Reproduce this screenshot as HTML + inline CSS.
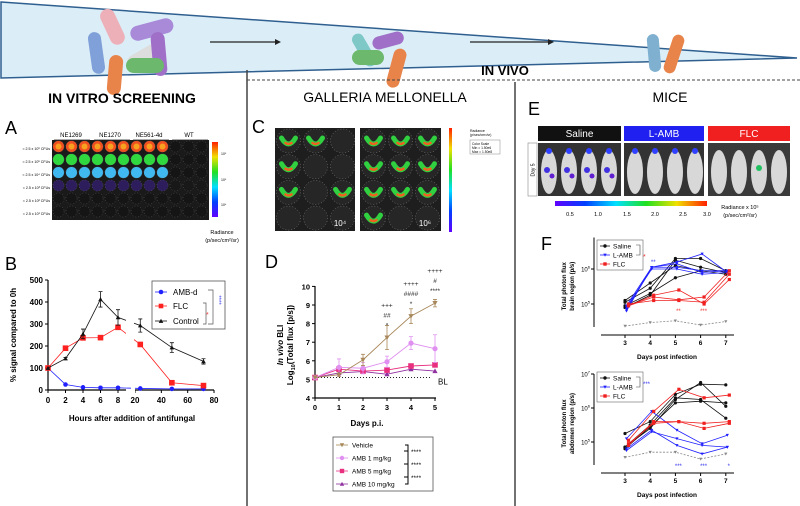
<!DOCTYPE html>
<html><head><meta charset="utf-8"><style>
html,body{margin:0;padding:0;background:#fff;}
svg{display:block;font-family:"Liberation Sans",sans-serif;}
</style></head><body>
<svg id="fig" width="800" height="506" viewBox="0 0 800 506" xmlns="http://www.w3.org/2000/svg">
<!-- banner -->
<g>
<polygon points="1,2 797,58 1,78" fill="#dbeef8" stroke="#2f5f8f" stroke-width="1.5"/>
<g>
<rect x="90" y="32" width="13" height="42" rx="6.5" fill="#7fa0d8" transform="rotate(-8 96 53)"/>
<rect x="105" y="8" width="15" height="38" rx="7.5" fill="#eeb0b8" transform="rotate(-25 112 27)"/>
<rect x="130" y="22" width="44" height="15" rx="7.5" fill="#a88ad8" transform="rotate(-15 152 30)"/>
<rect x="125" y="48" width="42" height="15" rx="7.5" fill="#ddd" transform="rotate(-30 146 55)"/>
<rect x="152" y="32" width="14" height="44" rx="7" fill="#a070c8" transform="rotate(-5 159 54)"/>
<rect x="108" y="55" width="14" height="40" rx="7" fill="#e8844a" transform="rotate(5 115 75)"/>
<rect x="126" y="58" width="38" height="15" rx="7.5" fill="#6cb86c"/>
</g>
<g>
<rect x="358" y="32" width="12" height="36" rx="6" fill="#7fc8c8" transform="rotate(-30 364 50)"/>
<rect x="372" y="34" width="32" height="13" rx="6.5" fill="#a070c8" transform="rotate(-15 388 40)"/>
<rect x="390" y="48" width="13" height="40" rx="6.5" fill="#e8844a" transform="rotate(15 396 68)"/>
<rect x="352" y="50" width="32" height="15" rx="7.5" fill="#6cb86c"/>
</g>
<g>
<rect x="648" y="34" width="12" height="38" rx="6" fill="#7fb0d0" transform="rotate(-5 654 53)"/>
<rect x="668" y="34" width="12" height="40" rx="6" fill="#e8844a" transform="rotate(18 674 54)"/>
</g>
<g><line x1="210" y1="42" x2="275" y2="42" stroke="#222" stroke-width="1.2"/><polygon points="275,39 281,42 275,45" fill="#222"/></g>
<g><line x1="470" y1="42" x2="548" y2="42" stroke="#222" stroke-width="1.2"/><polygon points="548,39 554,42 548,45" fill="#222"/></g>
</g>
<!-- dividers -->
<line x1="247" y1="70" x2="247" y2="506" stroke="#444" stroke-width="1.5"/>
<line x1="515" y1="82" x2="515" y2="506" stroke="#444" stroke-width="1.5"/>
<line x1="247" y1="80" x2="800" y2="80" stroke="#444" stroke-width="1" stroke-dasharray="3,2"/>
<text x="505" y="75" font-size="13" font-weight="bold" text-anchor="middle">IN VIVO</text>
<text x="122" y="103" font-size="14" font-weight="bold" text-anchor="middle">IN VITRO SCREENING</text>
<text x="385" y="102" font-size="14" text-anchor="middle">GALLERIA MELLONELLA</text>
<text x="670" y="102" font-size="14" text-anchor="middle">MICE</text>
<text x="5" y="134" font-size="18">A</text>
<text x="5" y="270" font-size="18">B</text>
<text x="252" y="133" font-size="18">C</text>
<text x="265" y="268" font-size="18">D</text>
<text x="528" y="115" font-size="18">E</text>
<text x="541" y="250" font-size="18">F</text>

<!-- Panel A -->
<g id="panelA">
<rect x="52" y="140" width="157" height="80" fill="#1a1a1a"/>
<g font-size="6" text-anchor="middle">
<text x="71" y="137">NE1269</text><text x="110" y="137">NE1270</text><text x="149" y="137">NE561-4d</text><text x="189" y="137">WT</text>
</g>
<g stroke="#222" stroke-width="0.8"><line x1="54" y1="140" x2="90" y2="140"/><line x1="94" y1="140" x2="130" y2="140"/><line x1="133" y1="140" x2="169" y2="140"/><line x1="172" y1="140" x2="208" y2="140"/></g>
<g font-size="3.6" text-anchor="end">
<text x="50" y="150">≈ 2.5 x 10⁶ CFUs</text><text x="50" y="163">≈ 2.5 x 10⁵ CFUs</text><text x="50" y="176">≈ 2.5 x 10⁴ CFUs</text><text x="50" y="189">≈ 2.5 x 10³ CFUs</text><text x="50" y="202">≈ 2.5 x 10² CFUs</text><text x="50" y="215">≈ 2.5 x 10¹ CFUs</text>
</g>
<defs><linearGradient id="rainbowV" x1="0" y1="1" x2="0" y2="0"><stop offset="0" stop-color="#6000ff"/><stop offset="0.2" stop-color="#0040ff"/><stop offset="0.4" stop-color="#00e0ff"/><stop offset="0.6" stop-color="#20e020"/><stop offset="0.8" stop-color="#f0e000"/><stop offset="1" stop-color="#ff2000"/></linearGradient>
<linearGradient id="rainbowH" x1="0" y1="0" x2="1" y2="0"><stop offset="0" stop-color="#6000ff"/><stop offset="0.2" stop-color="#0040ff"/><stop offset="0.4" stop-color="#00e0ff"/><stop offset="0.6" stop-color="#20e020"/><stop offset="0.8" stop-color="#f0e000"/><stop offset="1" stop-color="#ff2000"/></linearGradient></defs>
<rect x="212" y="142" width="6" height="75" fill="url(#rainbowV)"/>
<g font-size="3.5"><text x="221" y="155">10⁸</text><text x="221" y="181">10⁸</text><text x="221" y="206">10⁶</text></g>
<text x="222" y="234" font-size="5.5" text-anchor="middle">Radiance</text>
<text x="222" y="242" font-size="5.5" text-anchor="middle">(p/sec/cm²/sr)</text>
</g>

<!-- Panel C -->
<g id="panelC">
<rect x="275" y="128" width="80" height="103" fill="#1e1e1e"/>
<rect x="360" y="128" width="81" height="103" fill="#1e1e1e"/>
<text x="340" y="226" font-size="8" fill="#fff" text-anchor="middle">10⁴</text>
<text x="425" y="226" font-size="8" fill="#fff" text-anchor="middle">10⁶</text>
<rect x="449" y="128" width="3" height="104" fill="url(#rainbowV)"/>
<text x="470" y="132" font-size="3.5">Radiance</text><text x="470" y="136" font-size="3.5">(p/sec/cm²/sr)</text>
<rect x="470" y="140" width="30" height="14" fill="#fff" stroke="#888" stroke-width="0.5"/>
<text x="472" y="145" font-size="3.3">Color Scale</text><text x="472" y="149" font-size="3.3">Min = 1.50e6</text><text x="472" y="153" font-size="3.3">Max = 1.50e8</text>
</g>

<!-- Panel E -->
<g id="panelE">
<rect x="538" y="126" width="83" height="15" fill="#111"/><text x="579.5" y="137" font-size="10" fill="#fff" text-anchor="middle">Saline</text>
<rect x="624" y="126" width="80" height="15" fill="#2020f0"/><text x="664" y="137" font-size="10" fill="#fff" text-anchor="middle">L-AMB</text>
<rect x="708" y="126" width="82" height="15" fill="#f02020"/><text x="749" y="137" font-size="10" fill="#fff" text-anchor="middle">FLC</text>
<rect x="528" y="143" width="9" height="53" fill="#fff" stroke="#888" stroke-width="0.6"/>
<text transform="translate(534.5 170) rotate(-90)" font-size="5" text-anchor="middle">Day 5</text>
<rect x="538" y="143" width="83" height="53" fill="#333"/>
<rect x="624" y="143" width="80" height="53" fill="#333"/>
<rect x="708" y="143" width="82" height="53" fill="#3a3a3a"/>
<rect x="555" y="201" width="152" height="5" fill="url(#rainbowH)"/>
<g font-size="5.5" text-anchor="middle"><text x="570" y="216">0.5</text><text x="598" y="216">1.0</text><text x="627" y="216">1.5</text><text x="655" y="216">2.0</text><text x="683" y="216">2.5</text><text x="707" y="216">3.0</text></g>
<text x="740" y="209" font-size="5.5" text-anchor="middle">Radiance x 10⁵</text>
<text x="740" y="217" font-size="5.5" text-anchor="middle">(p/sec/cm²/sr)</text>
</g>

<g id="chartB"></g>
<g id="chartD"></g>
<g id="chartF1"></g>
<g id="chartF2"></g>
</svg>
<script>
// ===== Panel B data =====
const bHours = [0, 2, 4, 6, 8, 24, 48, 72];
const bAMB = [100, 25, 12, 10, 10, 7, 5, 5];
const bFLC = [100, 190, 237, 238, 285, 207, 33, 20];
const bCtrl = [100, 143, 255, 412, 330, 293, 193, 130];
const bCtrlErr = [0, 5, 22, 35, 35, 30, 22, 12];
const bYTicks = [0, 100, 200, 300, 400, 500];
const bXTicksLeft = [0, 2, 4, 6, 8];
const bXTicksRight = [20, 40, 60, 80];
// ===== Panel D data =====
const dDays = [0, 1, 2, 3, 4, 5];
const dVehicle = [5.1, 5.25, 6.05, 7.25, 8.4, 9.1];
const dVehicleErr = [0, 0.1, 0.3, 0.65, 0.4, 0.2];
const dAmb1 = [5.1, 5.65, 5.6, 5.95, 6.95, 6.65];
const dAmb1Err = [0, 0.45, 0.3, 0.3, 0.35, 0.75];
const dAmb5 = [5.1, 5.55, 5.45, 5.5, 5.72, 5.78];
const dAmb10 = [5.1, 5.35, 5.42, 5.28, 5.55, 5.45];
const dYTicks = [4, 5, 6, 7, 8, 9, 10];
// ===== Panel F data (log10 values) =====
const fDays = [3, 4, 5, 6, 7];
const brainSaline = [[5.05,5.45,6.3,6.3,5.95],[4.9,5.25,6.25,6.05,5.9],[4.95,5.3,5.75,5.95,5.95],[5.1,5.6,6.1,5.95,5.85]];
const brainLamb = [[4.85,6.05,6.05,5.95,5.95],[4.95,6.05,6.2,6.43,5.9],[4.9,6.0,6.0,5.85,5.9],[4.8,6.05,6.15,5.9,5.95]];
const brainFlc = [[4.95,5.25,5.4,5.0,5.7],[5.0,5.1,5.1,5.05,5.85],[4.95,5.2,5.12,5.2,5.95]];
const brainCtrl = [4.37, 4.47, 4.52, 4.4, 4.5];
const abdSaline = [[5.25,5.6,6.4,6.7,6.68],[4.85,5.4,6.25,6.75,6.05],[4.8,5.45,6.15,6.2,6.15],[4.85,5.5,6.3,6.25,5.7]];
const abdLamb = [[5.1,5.9,5.35,4.95,5.2],[4.75,5.3,5.1,4.9,4.85],[4.8,5.35,4.9,4.65,4.85]];
const abdFlc = [[5.05,5.9,6.55,6.3,6.38],[4.95,5.55,5.6,5.55,5.6],[4.9,5.6,5.6,5.4,5.55]];
const abdCtrl = [4.55, 4.7, 4.7, 4.5, 4.65];

const NS = "http://www.w3.org/2000/svg";
function mk(tag, attrs, parent) {
  const e = document.createElementNS(NS, tag);
  for (const k in attrs) e.setAttribute(k, attrs[k]);
  parent.appendChild(e);
  return e;
}
function txt(s, attrs, parent) { const t = mk('text', attrs, parent); t.textContent = s; return t; }
function marker(shape, x, y, color, parent, r) {
  r = r || 2.6;
  let m;
  if (shape === 'circle') m = mk('circle', {cx: x, cy: y, r: r, fill: color}, parent);
  else if (shape === 'square') m = mk('rect', {x: x - r, y: y - r, width: 2 * r, height: 2 * r, fill: color}, parent);
  else if (shape === 'tri') m = mk('polygon', {points: `${x},${y - r} ${x + r},${y + r * 0.8} ${x - r},${y + r * 0.8}`, fill: color}, parent);
  else m = mk('polygon', {points: `${x},${y + r} ${x + r},${y - r * 0.8} ${x - r},${y - r * 0.8}`, fill: color}, parent);
  return m;
}

// ===== Panel A wells =====
(function () {
  const g = document.getElementById('panelA');
  const rowCols = ['#f05020', '#30d840', '#40b8f0', '#4020a0', null, null];
  for (let r = 0; r < 6; r++) for (let c = 0; c < 12; c++) {
    const col = c < 9 ? rowCols[r] : null;
    const w = mk('circle', {cx: 58.5 + c * 13, cy: 146.5 + r * 13, r: 5.6, fill: col ? col : '#151515', stroke: '#666', 'stroke-width': 0.5, 'stroke-dasharray': '1,2', 'fill-opacity': r === 3 ? 0.5 : 1}, g);
    
    
    if (r === 0 && col) mk('circle', {cx: 58.5 + c * 13, cy: 146.5, r: 3, fill: '#f8a020'}, g);
  }
})();
// ===== Panel C wells =====
(function () {
  const g = document.getElementById('panelC');
  const left = [[1,1,0],[1,0,0],[1,0,1],[0,0,0]];
  const right = [[1,1,1],[1,1,1],[1,1,1],[1,0,0]];
  [[275, left], [360, right]].forEach(([x0, grid]) => {
    for (let r = 0; r < 4; r++) for (let c = 0; c < 3; c++) {
      const cx = x0 + 13.5 + c * 27, cy = 141 + r * 25.7;
      const w = mk('circle', {cx: cx, cy: cy, r: 12, fill: '#262626', stroke: '#999', 'stroke-width': 0.5, 'stroke-dasharray': '1,2'}, g);
      
      
      if (grid[r][c]) {
        mk('path', {d: `M${cx - 7},${cy - 3} Q${cx},${cy + 9} ${cx + 7},${cy - 3}`, fill: 'none', stroke: '#30d040', 'stroke-width': 5, 'stroke-linecap': 'round'}, g);
        mk('path', {d: `M${cx - 3},${cy + 2} Q${cx},${cy + 4} ${cx + 3},${cy + 2}`, fill: 'none', stroke: '#f06020', 'stroke-width': 2.5, 'stroke-linecap': 'round'}, g);
      }
    }
  });
  const t = g.querySelectorAll('text');
  t.forEach(n => g.appendChild(n));
})();
// ===== Panel E mice =====
(function () {
  const g = document.getElementById('panelE');
  const starts = [538, 624, 708];
  const spots = [[1,1,1,1],[1,1,1,1],[0,0,1,0]];
  starts.forEach((x0, gi) => {
    for (let i = 0; i < 4; i++) {
      const cx = x0 + 11 + i * 20;
      const m = mk('ellipse', {cx: cx, cy: 172, rx: 8, ry: 22, fill: '#d8d8d8'}, g);
      
      
      if (gi < 2) mk('circle', {cx: cx, cy: 151, r: 3, fill: '#3040ff'}, g);
      if (gi === 0) { mk('circle', {cx: cx - 2, cy: 170, r: 3, fill: '#4030e0'}, g); mk('circle', {cx: cx + 3, cy: 176, r: 2.5, fill: '#6020d0'}, g); }
      if (gi === 2 && spots[gi][i]) mk('circle', {cx: cx, cy: 168, r: 3, fill: '#20c060'}, g);
    }
  });
})();

// ===== Panel B chart =====
(function () {
  const g = document.getElementById('chartB');
  const y = v => 390 - v * 0.22;
  const x = h => h <= 8 ? 48 + h * 8.75 : 135 + (h - 20) * 1.317;
  mk('line', {x1: 48, y1: 280, x2: 48, y2: 390, stroke: '#000', 'stroke-width': 1.2}, g);
  mk('line', {x1: 48, y1: 390, x2: 126, y2: 390, stroke: '#000', 'stroke-width': 1.2}, g);
  mk('line', {x1: 135, y1: 390, x2: 214, y2: 390, stroke: '#000', 'stroke-width': 1.2}, g);
  bYTicks.forEach(v => { mk('line', {x1: 45, y1: y(v), x2: 48, y2: y(v), stroke: '#000'}, g); const t = txt(v, {x: 43, y: y(v) + 3, 'font-size': 8, 'font-weight': 'bold', 'text-anchor': 'end'}, g);   });
  bXTicksLeft.concat(bXTicksRight).forEach(v => { mk('line', {x1: x(v), y1: 390, x2: x(v), y2: 393, stroke: '#000'}, g); const t = txt(v, {x: x(v), y: 403, 'font-size': 8, 'font-weight': 'bold', 'text-anchor': 'middle'}, g);   });
  const xt = txt('Hours after addition of antifungal', {x: 132, y: 421, 'font-size': 8, 'font-weight': 'bold', 'text-anchor': 'middle'}, g);
  
  
  const yt = txt('% signal compared to 0h', {transform: 'translate(16 335) rotate(-90)', 'font-size': 8, 'font-weight': 'bold', 'text-anchor': 'middle'}, g);
  
  
  const series = [[bAMB, '#2020ff', 'circle', 'amb-d'], [bFLC, '#ff2020', 'square', 'flc'], [bCtrl, '#111', 'tri', 'control']];
  series.forEach(([vals, col, shp, nm]) => {
    const pts = bHours.map((h, i) => `${x(h)},${y(vals[i])}`);
    const l = mk('polyline', {points: pts.join(' '), fill: 'none', stroke: col, 'stroke-width': 0.8}, g);
    
    
    bHours.forEach((h, i) => {
      if (nm === 'control' && bCtrlErr[i] > 0) {
        const e = mk('path', {d: `M${x(h)},${y(vals[i] - bCtrlErr[i])}V${y(vals[i] + bCtrlErr[i])}M${x(h) - 2},${y(vals[i] - bCtrlErr[i])}h4M${x(h) - 2},${y(vals[i] + bCtrlErr[i])}h4`, stroke: '#111', fill: 'none', 'stroke-width': 0.8}, g);
        
        
      }
      const m = marker(shp, x(h), y(vals[i]), col, g, shp === 'square' ? 2.8 : 2.3);
      
      
    });
  });
  mk('rect', {x: 131, y: 385, width: 4, height: 10, fill: '#fff'}, g);
  mk('rect', {x: 126, y: 295, width: 8, height: 60, fill: '#fff'}, g);
  const lg = mk('g', {}, g);
  
  
  mk('rect', {x: 152, y: 281, width: 73, height: 48, fill: '#fff', stroke: '#555', 'stroke-width': 0.8}, lg);
  [['AMB-d', '#2020ff', 'circle', 292], ['FLC', '#ff2020', 'square', 306], ['Control', '#111', 'tri', 321]].forEach(([n, c, s, yy]) => {
    mk('line', {x1: 155, y1: yy, x2: 167, y2: yy, stroke: c, 'stroke-width': 0.8}, lg);
    marker(s, 161, yy, c, lg, 2.3);
    const t = txt(n, {x: 173, y: yy + 3, 'font-size': 8}, lg);
    
    
  });
  mk('path', {d: 'M208,290h5v34h-5M203,303h3v21h-3', fill: 'none', stroke: '#555', 'stroke-width': 0.7}, lg);
  txt('*', {x: 206, y: 317, 'font-size': 7, fill: '#f04040'}, lg);
  txt('****', {transform: 'translate(217 300) rotate(90)', 'font-size': 6, fill: '#4040f0', 'text-anchor': 'middle'}, lg);
})();

// ===== Panel D chart =====
(function () {
  const g = document.getElementById('chartD');
  const y = v => 398 - (v - 4) * 18.6;
  const x = d => 315 + d * 24;
  mk('line', {x1: 315, y1: 286, x2: 315, y2: 398, stroke: '#000', 'stroke-width': 1.2}, g);
  mk('line', {x1: 315, y1: 398, x2: 436, y2: 398, stroke: '#000', 'stroke-width': 1.2}, g);
  dYTicks.forEach(v => { mk('line', {x1: 312, y1: y(v), x2: 315, y2: y(v), stroke: '#000'}, g); const t = txt(v, {x: 310, y: y(v) + 3, 'font-size': 7.5, 'font-weight': 'bold', 'text-anchor': 'end'}, g);   });
  dDays.forEach(v => { mk('line', {x1: x(v), y1: 398, x2: x(v), y2: 401, stroke: '#000'}, g); const t = txt(v, {x: x(v), y: 410, 'font-size': 7.5, 'font-weight': 'bold', 'text-anchor': 'middle'}, g);   });
  const xt = txt('Days p.i.', {x: 367, y: 426, 'font-size': 8, 'font-weight': 'bold', 'text-anchor': 'middle'}, g);
  
  
  const yt1 = txt('', {transform: 'translate(283 345) rotate(-90)', 'font-size': 8, 'font-weight': 'bold', 'text-anchor': 'middle'}, g);
  yt1.innerHTML = '<tspan font-style="italic">In vivo</tspan> BLI';
  
  
  const yt2 = txt('', {transform: 'translate(293 345) rotate(-90)', 'font-size': 8, 'font-weight': 'bold', 'text-anchor': 'middle'}, g);
  yt2.innerHTML = 'Log<tspan font-size="5.5" dy="2">10</tspan><tspan dy="-2">(Total flux [p/s])</tspan>';
  
  
  mk('line', {x1: 315, y1: y(5.1), x2: 432, y2: y(5.1), stroke: '#000', 'stroke-width': 0.8, 'stroke-dasharray': '1,2'}, g);
  txt('BL', {x: 438, y: y(5.1) + 7, 'font-size': 8}, g);
  const series = [[dAmb10, '#9030a0', 'tri', 'amb10', null], [dAmb5, '#e8307f', 'square', 'amb5', null], [dAmb1, '#e090f0', 'circle', 'amb1', dAmb1Err], [dVehicle, '#a8885a', 'dtri', 'vehicle', dVehicleErr]];
  series.forEach(([vals, col, shp, nm, err]) => {
    const l = mk('polyline', {points: dDays.map((d, i) => `${x(d)},${y(vals[i])}`).join(' '), fill: 'none', stroke: col, 'stroke-width': 0.9}, g);
    
    
    dDays.forEach((d, i) => {
      if (err && err[i] > 0) {
        const e = mk('path', {d: `M${x(d)},${y(vals[i] - err[i])}V${y(vals[i] + err[i])}M${x(d) - 2},${y(vals[i] - err[i])}h4M${x(d) - 2},${y(vals[i] + err[i])}h4`, stroke: col, fill: 'none', 'stroke-width': 0.8}, g);
        
        
      }
      const m = marker(shp, x(d), y(vals[i]), col, g, shp === 'square' ? 2.8 : 2.6);
      
      
    });
  });
  const sig = [[3, ['+++', '##', '*']], [4, ['++++', '####', '*']], [5, ['++++', '#', '****']]];
  sig.forEach(([d, arr]) => {
    const top = y(dVehicle[d]) - 10 - (arr.length - 1) * 10;
    arr.forEach((s, k) => { const t = txt(s, {x: x(d), y: top + k * 10, 'font-size': 6.5, 'text-anchor': 'middle', fill: '#222'}, g);   });
  });
  const lg = mk('g', {}, g);
  
  
  mk('rect', {x: 333, y: 437, width: 100, height: 54, fill: '#fff', stroke: '#555', 'stroke-width': 0.8}, lg);
  [['Vehicle', '#a8885a', 'dtri', 445], ['AMB 1 mg/kg', '#e090f0', 'circle', 458], ['AMB 5 mg/kg', '#e8307f', 'square', 471], ['AMB 10 mg/kg', '#9030a0', 'tri', 484]].forEach(([n, c, s, yy]) => {
    mk('line', {x1: 336, y1: yy, x2: 348, y2: yy, stroke: c, 'stroke-width': 0.8}, lg);
    marker(s, 342, yy, c, lg, 2.2);
    const t = txt(n, {x: 352, y: yy + 2.5, 'font-size': 6.5}, lg);
    
    
  });
  mk('path', {d: 'M405,445h3v39h-3M408,451h-4M408,464h-4M408,477h-4', fill: 'none', stroke: '#000', 'stroke-width': 1}, lg);
  [451, 464, 477].forEach(yy => txt('****', {x: 411, y: yy + 3, 'font-size': 6.5}, lg));
})();

// ===== Panel F charts =====
function logChart(gid, y0, yDecade, topExp, ticks, salineS, lambS, flcS, ctrlS, title2, xAxisY, legendY, sigs) {
  const g = document.getElementById(gid);
  const y = v => y0 - (v - 5) * yDecade;
  const x = d => 625 + (d - 3) * 25.2;
  mk('line', {x1: 594, y1: y(topExp), x2: 594, y2: xAxisY - 8, stroke: '#000', 'stroke-width': 1}, g);
  mk('line', {x1: 601, y1: xAxisY, x2: 734, y2: xAxisY, stroke: '#000', 'stroke-width': 1}, g);
  ticks.forEach(e => { mk('line', {x1: 591, y1: y(e), x2: 594, y2: y(e), stroke: '#000'}, g); const t = txt('', {x: 590, y: y(e) + 2.5, 'font-size': 6, 'text-anchor': 'end'}, g); t.innerHTML = `10<tspan font-size="4" dy="-3">${e}</tspan>`;   });
  fDays.forEach(d => { mk('line', {x1: x(d), y1: xAxisY, x2: x(d), y2: xAxisY + 3, stroke: '#000'}, g); const t = txt(d, {x: x(d), y: xAxisY + 10, 'font-size': 6.5, 'font-weight': 'bold', 'text-anchor': 'middle'}, g);   });
  const xt = txt('Days post infection', {x: 667, y: xAxisY + 24, 'font-size': 6.5, 'font-weight': 'bold', 'text-anchor': 'middle'}, g);
  
  
  const cy = (y(topExp) + xAxisY) / 2;
  const y1t = txt('Total photon flux', {transform: `translate(566 ${cy}) rotate(-90)`, 'font-size': 6, 'font-weight': 'bold', 'text-anchor': 'middle'}, g);
  
  
  const y2t = txt(title2, {transform: `translate(574 ${cy}) rotate(-90)`, 'font-size': 6, 'font-weight': 'bold', 'text-anchor': 'middle'}, g);
  
  
  const ctl = mk('polyline', {points: fDays.map((d, i) => `${x(d)},${y(ctrlS[i])}`).join(' '), fill: 'none', stroke: '#888', 'stroke-width': 0.8, 'stroke-dasharray': '2,1.5'}, g);
  
  
  fDays.forEach((d, i) => { const m = marker('dtri', x(d), y(ctrlS[i]), '#888', g, 1.6);   });
  [[salineS, '#111', 'circle', 0, 'saline'], [lambS, '#2020ff', 'dtri', 1.5, 'l-amb'], [flcS, '#f02020', 'square', 3.5, 'flc']].forEach(([set, col, shp, off, nm]) => {
    set.forEach(vals => {
      const l = mk('polyline', {points: fDays.map((d, i) => `${x(d) + off},${y(vals[i])}`).join(' '), fill: 'none', stroke: col, 'stroke-width': 0.8}, g);
      
      
      fDays.forEach((d, i) => { const m = marker(shp, x(d) + off, y(vals[i]), col, g, 1.6);   });
    });
  });
  sigs.forEach(([d, s, col, yy]) => { const t = txt(s, {x: x(d) + 3, y: yy, 'font-size': 6, fill: col, 'text-anchor': 'middle'}, g);   });
  const lg = mk('g', {}, g);
  
  
  mk('rect', {x: 597, y: legendY, width: 46, height: 30, fill: '#fff', stroke: '#666', 'stroke-width': 0.6}, lg);
  [['Saline', '#111', 'circle'], ['L-AMB', '#2020ff', 'dtri'], ['FLC', '#f02020', 'square']].forEach(([n, c, s], k) => {
    const yy = legendY + 6 + k * 9;
    mk('line', {x1: 600, y1: yy, x2: 610, y2: yy, stroke: c, 'stroke-width': 0.8}, lg);
    marker(s, 605, yy, c, lg, 1.7);
    const t = txt(n, {x: 613, y: yy + 2.3, 'font-size': 6.5}, lg);
    
    
  });
  mk('path', {d: `M636,${legendY + 5}h4v10h-4`, fill: 'none', stroke: '#444', 'stroke-width': 0.6}, lg);
}
logChart('chartF1', 304, 35, 6.9, [5, 6], brainSaline, brainLamb, brainFlc, brainCtrl, 'brain region (p/s)', 335, 240,
  [[4, '**', '#3030f0', 264], [5, '**', '#f03030', 313], [6, '***', '#f03030', 313]]);
logChart('chartF2', 442, 34, 7, [5, 6, 7], abdSaline, abdLamb, abdFlc, abdCtrl, 'abdomen region (p/s)', 473, 372,
  [[5, '***', '#3030f0', 468], [6, '***', '#3030f0', 468], [7, '*', '#3030f0', 468]]);
(function () {
  const g = document.getElementById('chartF1');
  txt('*', {x: 643, y: 259, 'font-size': 7, fill: '#f03030'}, g);
  const g2 = document.getElementById('chartF2');
  txt('***', {x: 643, y: 386, 'font-size': 6, fill: '#3030f0'}, g2);
})();
</script>
</body></html>
